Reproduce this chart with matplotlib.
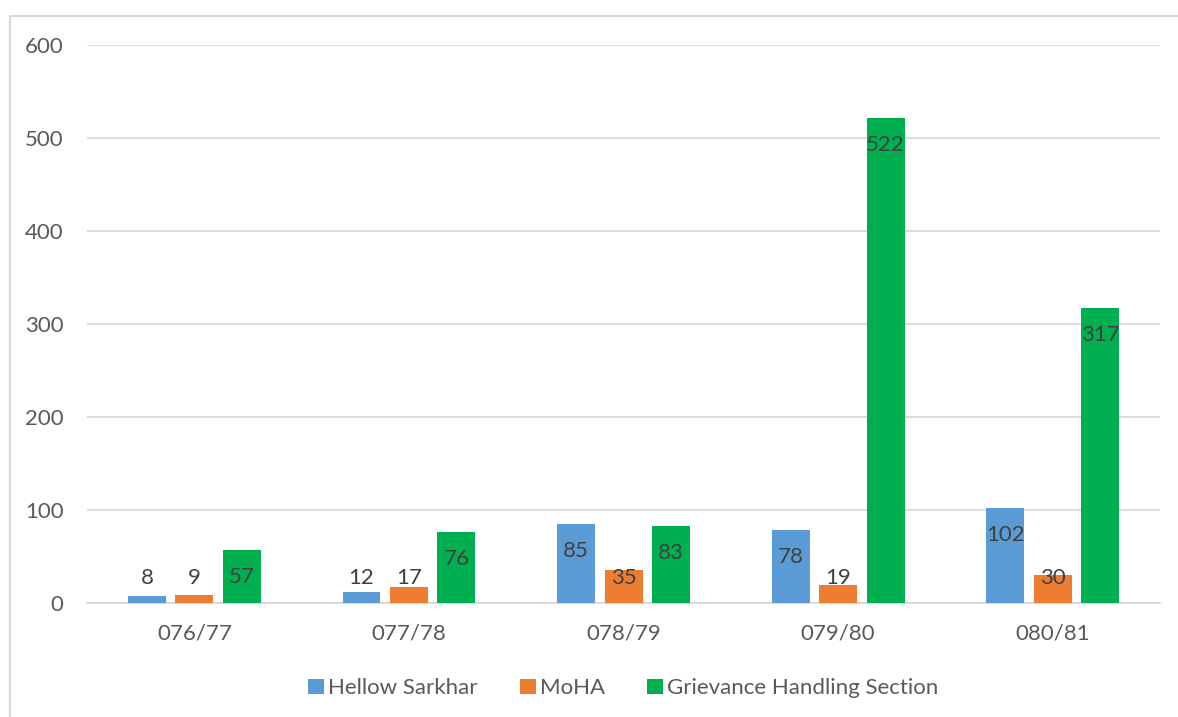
import numpy as np
import matplotlib.pyplot as plt
from matplotlib.patches import Rectangle

plt.rcParams['font.family'] = ['Lato', 'DejaVu Sans']

years = ['076/77', '077/78', '078/79', '079/80', '080/81']
hellow_sarkhar = [8, 12, 85, 78, 102]
moha = [9, 17, 35, 19, 30]
grievance = [57, 76, 83, 522, 317]

series = [
    ('Hellow Sarkhar', hellow_sarkhar, '#5B9BD5'),
    ('MoHA', moha, '#ED7D31'),
    ('Grievance Handling Section', grievance, '#00B050'),
]

fig = plt.figure(figsize=(11.78, 7.17), dpi=100)
ax = fig.add_axes([0.0739, 0.159, 0.9108, 0.778])

# light frame around the whole chart
fig.patches.append(Rectangle((10 / 1178, -0.05), 1.2, (717 - 16) / 717 + 0.05,
                             transform=fig.transFigure, fill=False,
                             edgecolor='#d9d9d9', linewidth=1.5))

x = np.arange(len(years))
width = 0.177
step = 0.221

for i, (name, vals, color) in enumerate(series):
    pos = x + (i - 1) * step
    ax.bar(pos, vals, width, color=color, label=name, zorder=3)
    for p, v in zip(pos, vals):
        # inside the top of the bar, but never lower than just above the baseline
        ly = max(v - 29, 27)
        ax.text(p, ly, str(v), ha='center', va='center', fontsize=16,
                color='#404040', zorder=4)

ax.set_xlim(-0.5, len(years) - 0.5)
ax.set_ylim(0, 600)
ax.set_yticks(range(0, 601, 100))
ax.set_xticks(x)
ax.set_xticklabels(years)
ax.yaxis.grid(True, color='#d9d9d9', linewidth=1.3, zorder=0)
ax.tick_params(axis='both', length=0, labelsize=16, labelcolor='#595959')
ax.tick_params(axis='y', pad=17)
ax.tick_params(axis='x', pad=15)
for side in ['left', 'right', 'top']:
    ax.spines[side].set_visible(False)
ax.spines['bottom'].set_color('#d9d9d9')
ax.spines['bottom'].set_linewidth(1.3)

leg = ax.legend(loc='center', bbox_to_anchor=(0.5, -0.153), ncol=3, frameon=False,
                fontsize=16, handlelength=0.7, handleheight=0.7,
                handletextpad=0.2, columnspacing=1.9)
for t in leg.get_texts():
    t.set_color('#595959')

fig.savefig('out.png', dpi=100)
